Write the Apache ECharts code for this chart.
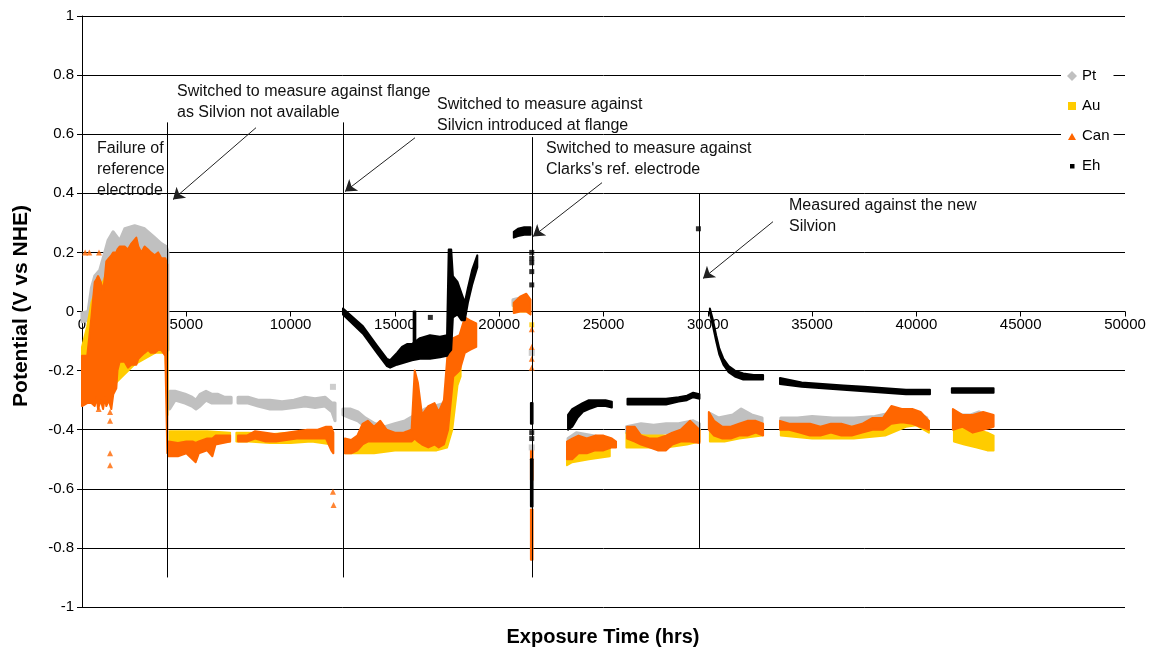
<!DOCTYPE html>
<html>
<head>
<meta charset="utf-8">
<script src="https://cdn.jsdelivr.net/npm/echarts@6/dist/echarts.min.js"></script>
<style>
html,body{margin:0;padding:0;background:#fff;}
#chart{width:1155px;height:655px;}
</style>
</head>
<body>
<div id="chart"></div>
<script>
// ---- data (x = exposure time in hrs, values in V vs NHE) ----
const seriesNames = ['Pt', 'Au', 'Can', 'Eh'];
const xTicks = [0, 5000, 10000, 15000, 20000, 25000, 30000, 35000, 40000, 45000, 50000];

// envelope segments: [hrs, low, high]
const ptSegments = [
  [[0,-0.035,-0.005],[290,-0.03,0.0],[450,-0.01,0.08],[610,0.02,0.12],[850,0.05,0.14],[1090,0.08,0.2],[1245,0.1,0.24],[1490,0.12,0.27],[1810,0.12,0.24],[2050,0.14,0.28],[2525,0.15,0.29],[3000,0.15,0.28],[3485,0.15,0.25],[3800,0.14,0.23],[4040,0.12,0.22],[4120,-0.13,0.2]],
  [[4200,-0.33,-0.27],[4460,-0.30,-0.27],[4940,-0.31,-0.28],[5270,-0.32,-0.29],[5465,-0.33,-0.30],[5660,-0.32,-0.28],[5945,-0.30,-0.27],[6230,-0.31,-0.28],[6520,-0.31,-0.28],[6810,-0.31,-0.29],[7150,-0.31,-0.29]],
  [[7480,-0.31,-0.29],[7960,-0.31,-0.29],[8440,-0.32,-0.30],[9010,-0.33,-0.30],[9590,-0.33,-0.305],[10160,-0.325,-0.30],[10690,-0.32,-0.29],[11170,-0.325,-0.295],[11650,-0.32,-0.29],[11985,-0.34,-0.31],[12130,-0.37,-0.31]],
  [[12510,-0.35,-0.33],[12850,-0.36,-0.33],[13230,-0.37,-0.34],[13570,-0.39,-0.36],[14050,-0.41,-0.38],[14525,-0.42,-0.39],[15000,-0.41,-0.38],[15485,-0.40,-0.37],[15965,-0.39,-0.35],[16440,-0.38,-0.33],[16920,-0.38,-0.32],[17400,-0.36,-0.31]],
  [[20660,0.02,0.04],[20950,0.02,0.045]],
  [[23300,-0.46,-0.43],[23700,-0.45,-0.41],[24500,-0.45,-0.42],[25300,-0.45,-0.43]],
  [[26100,-0.41,-0.39],[26800,-0.41,-0.38],[27400,-0.42,-0.385],[28000,-0.41,-0.38],[28600,-0.41,-0.38],[29300,-0.40,-0.37],[29600,-0.40,-0.38]],
  [[30100,-0.38,-0.345],[30500,-0.39,-0.36],[31200,-0.39,-0.35],[31600,-0.38,-0.33],[32100,-0.38,-0.35],[32600,-0.39,-0.36]],
  [[33500,-0.39,-0.36],[34300,-0.385,-0.36],[35000,-0.385,-0.355],[36000,-0.39,-0.36],[37000,-0.39,-0.36],[38000,-0.39,-0.355],[39000,-0.38,-0.34],[40000,-0.38,-0.34],[40500,-0.39,-0.36]],
  [[41800,-0.39,-0.35],[42600,-0.39,-0.35],[43000,-0.38,-0.34],[43600,-0.39,-0.36]]
];
const auSegments = [
  [[0,-0.2,-0.12],[250,-0.22,-0.05],[450,-0.25,0.03],[700,-0.3,0.08],[1000,-0.3,0.1],[1500,-0.25,0.18],[2500,-0.18,0.2],[3500,-0.14,0.18],[4000,-0.14,0.15],[4100,-0.35,-0.1]],
  [[4200,-0.44,-0.405],[5000,-0.44,-0.405],[6000,-0.44,-0.405],[7100,-0.44,-0.41]],
  [[7400,-0.44,-0.41],[8000,-0.44,-0.41],[9000,-0.445,-0.415],[10000,-0.445,-0.41],[11000,-0.44,-0.41],[12000,-0.45,-0.41]],
  [[12600,-0.48,-0.44],[13500,-0.48,-0.44],[14000,-0.48,-0.44],[15000,-0.47,-0.44],[16000,-0.47,-0.43],[17000,-0.47,-0.43],[17500,-0.46,-0.40],[17750,-0.40,-0.24],[18000,-0.25,-0.18],[18150,-0.22,-0.16]],
  [[20700,0.0,0.03],[21300,0.0,0.03]],
  [[23250,-0.52,-0.45],[23500,-0.51,-0.45],[24300,-0.5,-0.46],[25300,-0.49,-0.45]],
  [[26100,-0.46,-0.41],[27000,-0.46,-0.42],[28000,-0.46,-0.42],[29000,-0.45,-0.40],[29600,-0.44,-0.40]],
  [[30100,-0.44,-0.36],[30800,-0.44,-0.40],[31500,-0.43,-0.39],[32600,-0.42,-0.38]],
  [[33500,-0.42,-0.38],[35000,-0.43,-0.39],[37000,-0.43,-0.39],[38500,-0.42,-0.38],[39500,-0.39,-0.35],[40000,-0.385,-0.355],[40600,-0.41,-0.37]],
  [[41800,-0.44,-0.38],[42300,-0.45,-0.39],[42900,-0.46,-0.40],[43400,-0.47,-0.41],[43700,-0.47,-0.42]]
];
const canSegments = [
  [[0,-0.32,-0.15],[250,-0.31,-0.15],[450,-0.31,-0.02],[610,-0.32,0.1],[700,-0.29,0.11],[770,-0.33,0.12],[900,-0.3,0.1],[1010,-0.33,0.07],[1100,-0.29,0.12],[1165,-0.32,0.17],[1280,-0.3,0.18],[1405,-0.33,0.19],[1500,-0.28,0.2],[1645,-0.26,0.2],[1700,-0.2,0.21],[1805,-0.17,0.22],[2045,-0.17,0.22],[2200,-0.19,0.21],[2365,-0.18,0.23],[2605,-0.18,0.25],[2700,-0.16,0.22],[2845,-0.15,0.2],[3000,-0.14,0.22],[3165,-0.13,0.21],[3300,-0.14,0.2],[3485,-0.14,0.19],[3650,-0.13,0.2],[3800,-0.13,0.18],[3995,-0.15,0.18],[4090,-0.48,0.16]],
  [[4150,-0.49,-0.44],[4600,-0.49,-0.445],[5000,-0.48,-0.44],[5300,-0.5,-0.44],[5450,-0.51,-0.445],[5600,-0.48,-0.44],[6000,-0.47,-0.43],[6250,-0.49,-0.43],[6400,-0.45,-0.42],[7100,-0.44,-0.42]],
  [[7480,-0.44,-0.42],[7900,-0.44,-0.42],[8300,-0.43,-0.405],[8800,-0.44,-0.41],[9300,-0.44,-0.415],[9800,-0.435,-0.41],[10300,-0.43,-0.405],[10800,-0.43,-0.40],[11300,-0.43,-0.40],[11700,-0.43,-0.39],[11950,-0.47,-0.39],[12050,-0.48,-0.41]],
  [[12600,-0.48,-0.43],[12900,-0.48,-0.435],[13200,-0.47,-0.42],[13450,-0.45,-0.38],[13700,-0.44,-0.37],[14000,-0.44,-0.39],[14300,-0.44,-0.37],[14600,-0.44,-0.40],[15000,-0.44,-0.41],[15400,-0.44,-0.41],[15800,-0.44,-0.40],[15950,-0.43,-0.20],[16100,-0.44,-0.24],[16300,-0.45,-0.35],[16600,-0.46,-0.32],[16900,-0.45,-0.31],[17100,-0.46,-0.34],[17350,-0.45,-0.30],[17550,-0.40,-0.12],[17800,-0.22,-0.09],[18100,-0.20,-0.08],[18350,-0.14,-0.02],[18600,-0.13,-0.03],[18900,-0.12,-0.04]],
  [[20700,-0.005,0.03],[21000,0.0,0.05],[21300,0.0,0.06],[21500,-0.01,0.04]],
  [[21520,-0.84,-0.67],[21600,-0.84,-0.67]],
  [[21520,-0.57,-0.47],[21600,-0.57,-0.47]],
  [[23250,-0.50,-0.44],[23500,-0.50,-0.43],[23800,-0.48,-0.42],[24200,-0.48,-0.43],[24600,-0.47,-0.42],[25000,-0.47,-0.42],[25400,-0.46,-0.43],[25600,-0.46,-0.44]],
  [[26130,-0.43,-0.39],[26500,-0.44,-0.39],[26800,-0.45,-0.42],[27200,-0.46,-0.43],[27600,-0.47,-0.43],[28000,-0.47,-0.42],[28300,-0.45,-0.41],[28700,-0.44,-0.40],[29150,-0.44,-0.37],[29600,-0.445,-0.40]],
  [[30050,-0.40,-0.34],[30300,-0.42,-0.37],[30700,-0.43,-0.39],[31100,-0.43,-0.39],[31500,-0.42,-0.38],[31900,-0.42,-0.37],[32300,-0.41,-0.37],[32650,-0.42,-0.38]],
  [[33460,-0.40,-0.37],[33900,-0.40,-0.38],[34400,-0.41,-0.38],[34900,-0.42,-0.38],[35400,-0.42,-0.39],[35900,-0.41,-0.38],[36400,-0.42,-0.38],[36900,-0.42,-0.39],[37400,-0.41,-0.38],[37900,-0.40,-0.36],[38400,-0.40,-0.36],[38800,-0.38,-0.32],[39300,-0.375,-0.33],[39800,-0.38,-0.33],[40200,-0.39,-0.34],[40600,-0.40,-0.37]],
  [[41750,-0.40,-0.33],[42200,-0.39,-0.35],[42700,-0.41,-0.35],[43200,-0.40,-0.34],[43700,-0.39,-0.35]]
];
const ehSegments = [
  [[12510,-0.01,0.01],[13470,-0.075,-0.05],[14140,-0.14,-0.115],[14620,-0.185,-0.16],[14770,-0.19,-0.165],[15100,-0.18,-0.14],[15340,-0.175,-0.12],[15580,-0.17,-0.11],[15820,-0.165,-0.11],[16200,-0.16,-0.09],[16680,-0.16,-0.08],[17160,-0.155,-0.085],[17500,-0.15,-0.08],[17580,-0.14,0.21],[17700,-0.13,0.21],[17780,-0.02,0.12],[18000,-0.01,0.10],[18200,-0.03,0.06],[18350,-0.03,0.03],[18500,0.03,0.08],[18700,0.09,0.14],[18950,0.15,0.19]],
  [[15900,-0.12,0.0],[15980,-0.12,0.0]],
  [[20700,0.25,0.27],[20900,0.255,0.28],[21200,0.26,0.285],[21500,0.26,0.285]],
  [[21520,-0.38,-0.31],[21600,-0.38,-0.31]],
  [[21520,-0.66,-0.5],[21600,-0.66,-0.5]],
  [[23300,-0.40,-0.35],[23500,-0.39,-0.33],[23750,-0.36,-0.32],[24000,-0.34,-0.31],[24300,-0.33,-0.30],[24700,-0.32,-0.30],[25100,-0.32,-0.30],[25400,-0.325,-0.305]],
  [[26150,-0.315,-0.295],[26800,-0.315,-0.295],[27400,-0.315,-0.295],[28000,-0.315,-0.295],[28600,-0.305,-0.29],[29000,-0.30,-0.285],[29300,-0.29,-0.275],[29600,-0.295,-0.28]],
  [[30100,-0.005,0.01],[30250,-0.05,-0.03],[30400,-0.10,-0.08],[30550,-0.145,-0.125],[30750,-0.18,-0.16],[31000,-0.205,-0.185],[31300,-0.22,-0.20],[31700,-0.23,-0.21],[32200,-0.23,-0.215],[32650,-0.23,-0.215]],
  [[33460,-0.245,-0.225],[34500,-0.255,-0.24],[35500,-0.26,-0.245],[36500,-0.265,-0.25],[37500,-0.27,-0.255],[38500,-0.275,-0.26],[39500,-0.28,-0.265],[40650,-0.28,-0.265]],
  [[41700,-0.275,-0.26],[43700,-0.275,-0.26]]
];

// isolated readings: [hrs, value]
const ptPoints = [[12030,-0.255],[21560,-0.46],[21560,-0.14]];
const auPoints = [[21560,-0.045]];
const canPoints = [[150,0.2],[350,0.2],[815,0.2],[800,-0.33],[1345,-0.34],[1345,-0.37],[1345,-0.48],[1345,-0.52],[12030,-0.61],[12060,-0.655],[21560,-0.06],[21560,-0.12],[21560,-0.16],[21560,-0.19]];
const ehPoints = [[16700,-0.02],[21560,0.2],[21560,0.18],[21560,0.165],[21560,0.135],[21560,0.09],[21560,-0.41],[21560,-0.43],[29550,0.28]];

// event markers: [hrs, top value, bottom value]
const eventLines = [[4075,0.64,-0.9],[12512,0.64,-0.9],[21573,0.59,-0.9],[29580,0.40,-0.80]];
// arrows: [fromHrs, fromV, toHrs, toV]
const arrowLines = [[8342,0.622,4363,0.379],[15964,0.588,12608,0.406],[24929,0.436,21621,0.254],[33126,0.304,29771,0.112]];
const noteTexts = [
  'Failure of\nreference\nelectrode',
  'Switched to measure against flange\nas Silvion not available',
  'Switched to measure against\nSilvicn introduced at flange',
  'Switched to measure against\nClarks\'s ref. electrode',
  'Measured against the new\nSilvion'
];

// ---- chart ----
const COLORS = {Pt:'#C0C0C0', Au:'#FFCC00', Can:'#FF6600', Eh:'#000000'};
const FONT = '"Liberation Sans", Arial, sans-serif';

function bandSeries(name, segs, lw) {
  const color = COLORS[name];
  return {
    type: 'custom', name: name, coordinateSystem: 'cartesian2d',
    silent: true, animation: false, z: 3,
    itemStyle: {color: color},
    data: segs.map((s, i) => [s[0][0], s[0][2], i]),
    encode: {x: 0, y: 1},
    renderItem: function (params, api) {
      const seg = segs[api.value(2)];
      const top = seg.map(p => api.coord([p[0], p[2]]));
      const bot = seg.map(p => api.coord([p[0], p[1]])).reverse();
      return {type: 'polygon', shape: {points: top.concat(bot)},
        style: {fill: color, stroke: color, lineWidth: lw, lineJoin: 'round'}};
    }
  };
}
function pointSeries(name, pts, symbol, size) {
  return {type: 'scatter', name: name, data: pts, symbol: symbol, symbolSize: size, z: 3,
    itemStyle: {color: COLORS[name]}, silent: true, animation: false};
}

const chart = echarts.init(document.getElementById('chart'));
const tx = {fontFamily: FONT, fontSize: 16, lineHeight: 21, fill: '#111'};
chart.setOption({
  animation: false,
  textStyle: {fontFamily: FONT},
  grid: {left: 82, right: 30, top: 16, bottom: 48, containLabel: false},
  xAxis: {
    type: 'value', min: 0, max: 50000, interval: 5000, z: 0,
    position: 'bottom', offset: -295.5,
    axisLine: {onZero: false, lineStyle: {color: '#000', width: 1}},
    axisTick: {show: true, length: 5, lineStyle: {color: '#000'}},
    axisLabel: {color: '#000', fontSize: 15, margin: 6, fontFamily: FONT,
      formatter: v => xTicks.indexOf(v) >= 0 ? String(v) : ''},
    splitLine: {show: false}
  },
  yAxis: {
    type: 'value', min: -1, max: 1, interval: 0.2,
    axisLine: {show: true, lineStyle: {color: '#000', width: 1}},
    axisTick: {show: true, length: 5, lineStyle: {color: '#000'}},
    axisLabel: {color: '#000', fontSize: 15, margin: 8, fontFamily: FONT},
    splitLine: {show: true, lineStyle: {color: '#000', width: 1}}
  },
  legend: {
    orient: 'vertical', left: 1061, top: 62,
    padding: [6, 4, 6, 6], itemGap: 14, itemWidth: 10, itemHeight: 10,
    backgroundColor: '#fff', selectedMode: false, z: 10,
    textStyle: {fontSize: 15, color: '#000', fontFamily: FONT, lineHeight: 16},
    data: [
      {name: 'Pt', icon: 'diamond', itemStyle: {color: COLORS.Pt}},
      {name: 'Au', icon: 'path://M0,0L0.01,0M1,1H9V9H1ZM10,10L9.99,10', itemStyle: {color: COLORS.Au}},
      {name: 'Can', icon: 'path://M0,0L0.01,0M5,2L9,9H1ZM10,10L9.99,10', itemStyle: {color: COLORS.Can}},
      {name: 'Eh', icon: 'path://M0,0L0.01,0M3,3H7.5V7.5H3ZM10,10L9.99,10', itemStyle: {color: COLORS.Eh}}
    ]
  },
  series: [
    bandSeries('Pt', ptSegments, 3),
    pointSeries('Pt', ptPoints, 'rect', 6),
    bandSeries('Au', auSegments, 2),
    pointSeries('Au', auPoints, 'rect', 5),
    bandSeries('Can', canSegments, 2),
    pointSeries('Can', canPoints, 'triangle', 6),
    bandSeries('Eh', ehSegments, 2),
    pointSeries('Eh', ehPoints, 'rect', 5),
    {
      type: 'lines', coordinateSystem: 'cartesian2d', silent: true, z: 5, animation: false,
      symbol: ['none', 'none'],
      lineStyle: {color: '#000', width: 1, opacity: 1},
      data: eventLines.map(d => ({coords: [[d[0], d[1]], [d[0], d[2]]]}))
    },
    {
      type: 'lines', coordinateSystem: 'cartesian2d', silent: true, z: 5, animation: false,
      symbol: ['none', 'arrow'], symbolSize: [8, 11],
      lineStyle: {color: '#222', width: 1, opacity: 1},
      data: arrowLines.map(d => ({coords: [[d[0], d[1]], [d[2], d[3]]]}))
    }
  ],
  graphic: [
    {type: 'text', left: 97, top: 138, z: 20, style: Object.assign({text: noteTexts[0]}, tx)},
    {type: 'text', left: 177, top: 81, z: 20, style: Object.assign({text: noteTexts[1]}, tx)},
    {type: 'text', left: 437, top: 94, z: 20, style: Object.assign({text: noteTexts[2]}, tx)},
    {type: 'text', left: 546, top: 138, z: 20, style: Object.assign({text: noteTexts[3]}, tx)},
    {type: 'text', left: 789, top: 195, z: 20, style: Object.assign({text: noteTexts[4]}, tx)},
    {type: 'text', x: 21, y: 306, rotation: Math.PI / 2, z: 20,
      style: {text: 'Potential (V vs NHE)', fontFamily: FONT, fontSize: 21, fontWeight: 'bold', fill: '#000',
        align: 'center', verticalAlign: 'middle'}},
    {type: 'text', x: 603, y: 637, z: 20,
      style: {text: 'Exposure Time (hrs)', fontFamily: FONT, fontSize: 20, fontWeight: 'bold', fill: '#000',
        align: 'center', verticalAlign: 'middle'}}
  ]
});
</script>
</body>
</html>
